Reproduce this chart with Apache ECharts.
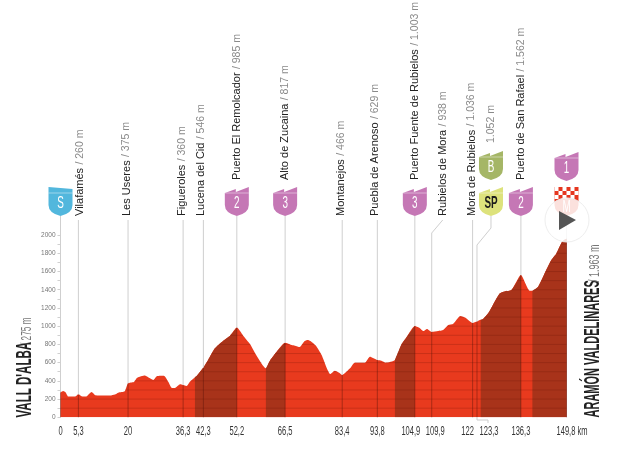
<!DOCTYPE html>
<html><head><meta charset="utf-8">
<style>html,body{margin:0;padding:0;background:#fff}#c{width:622px;height:466px}</style>
<script src="https://cdn.jsdelivr.net/npm/echarts@6/dist/echarts.min.js"></script>
</head><body><div id="c"></div>
<script>
const profileKm=[0,0.8,1.5,2.3,4.3,5.3,6.5,7.5,9.2,10.4,12.7,14.7,16.1,17.1,19,20,21.7,22.7,25,26.5,27.5,28.6,30.6,31.9,32.9,33.9,35.4,37.3,38.3,39.8,40.3,42.3,43.7,45.7,48.2,50.2,52.2,54.1,56.1,58.1,60.8,62,64,66.5,68.4,69.4,70.8,72.3,73.3,75.5,77.3,79.9,81.2,82.5,83.4,85.7,87.1,90.1,91.6,93.8,95,96.3,99,101,102.4,104.9,106.2,107.5,108.5,109.9,111.8,113.3,114.8,116.2,118.4,119.9,122,123.3,124.4,125.1,126.6,130,131.5,133.5,136.3,138.9,139.7,141.4,143.8,145.3,146.8,148.5,149.8];
const profileElev=[275,289,274,227,227,252,227,227,278,241,238,238,249,270,285,373,388,435,460,428,410,453,457,391,325,322,362,344,391,440,453,546,629,757,841,896,985,896,804,673,537,622,720,817,793,786,771,837,848,790,684,475,512,490,466,537,600,600,665,629,622,600,629,804,877,1003,984,947,969,938,947,958,1013,1024,1111,1093,1036,1052,1070,1079,1141,1360,1382,1397,1562,1389,1389,1433,1616,1726,1799,1927,1963];
const climbRanges=[[39.8,52.2],[60.8,66.5],[99,104.9],[124.4,136.3],[139.7,149.8]];
const kmTicks=[0,5.3,20,36.3,42.3,52.2,66.5,83.4,93.8,104.9,109.9,122,123.3,136.3,149.8];
const kmLabels=['0','5,3','20','36,3','42,3','52,2','66,5','83,4','93,8','104,9','109,9','122','123,3','136,3','149,8 km'];
const kmLabelDx=[0,0,0,0,0,0,0,0,0,-4,3.5,-5,12,0,5.5];
const elevLabels=[0,200,400,600,800,1000,1200,1400,1600,1800,2000];
const elevTicks=[0,100,200,300,400,500,600,700,800,900,1000,1100,1200,1300,1400,1500,1600,1700,1800,1900,2000];
const stopKm=[5.3,20,36.3,42.3,52.2,66.5,83.4,93.8,104.9,109.9,122,123.3,136.3];
const stopNames=['Vilafamés','Les Useres','Figueroles','Lucena del Cid','Puerto El Remolcador','Alto de Zucaina','Montanejos','Puebla de Arenoso','Puerto Fuente de Rubielos','Rubielos de Mora','Mora de Rubielos','','Puerto de San Rafael'];
const stopHeights=['/ 260 m','/ 375 m','/ 360 m','/ 546 m','/ 985 m','/ 817 m','/ 466 m','/ 629 m','/ 1.003 m','/ 938 m','/ 1.036 m','1.052 m','/ 1.562 m'];
const stopDx=[2,-1.5,-1.5,-2,0,0,-1.5,-2,0,11,-1,14.5,0];
const stopBottom=[216,216,216,216,180,180,216,216,180,216,216,143,180];
const shieldKm=[0,52.2,66.5,104.9,123.3,123.3,136.3,149.8,149.8];
const shieldText=['S','2','3','3','SP','B','2','M','1'];
const shieldFill=['#52b7dd','#c577b5','#c577b5','#c577b5','#dde27c','#a5b666','#c577b5','#e5361f','#c577b5'];
const shieldDx=[0,0,0,0,14,14,0,0,0];
const shieldTop=[187,187,187,187,187,151,187,187,152];

const profile=profileKm.map((k,i)=>[k,profileElev[i]]);
function elevAt(km){
  for(let i=1;i<profile.length;i++){
    if(km<=profile[i][0]){const a=profile[i-1],b=profile[i];return a[1]+(b[1]-a[1])*(km-a[0])/(b[0]-a[0]);}
  }
  return profile[profile.length-1][1];
}
/* parts of each 100 m level that lie under the profile */
const levelRuns=[];
elevTicks.slice(1).forEach(lv=>{
  let start=null;
  for(let i=0;i<profile.length;i++){
    const p=profile[i],q=profile[i-1];
    if(p[1]>=lv&&start===null){start=q?q[0]+(p[0]-q[0])*(lv-q[1])/(p[1]-q[1]):p[0];}
    if(p[1]<lv&&start!==null){levelRuns.push([start,q[0]+(p[0]-q[0])*(q[1]-lv)/(q[1]-p[1]),lv]);start=null;}
  }
  if(start!==null)levelRuns.push([start,149.8,lv]);
});
const Y_TOP_LINE=220;
const guides=[0].concat(stopKm,[149.8]);
const guideSeries={type:'custom',silent:true,z:5,coordinateSystem:'cartesian2d',data:guides.map(k=>[k]),
  encode:{x:0},
  renderItem(p,api){
    const km=api.value(0),x=api.coord([km,0])[0],y0=api.coord([km,0])[1],yp=api.coord([km,elevAt(km)])[1];
    const kids=[{type:'line',shape:{x1:x,y1:y0,x2:x,y2:yp},style:{stroke:'rgba(90,20,10,.55)',lineWidth:.8}}];
    let pts;
    if(km===109.9)pts=[[x,yp],[x,233],[x+11,Y_TOP_LINE]];
    else if(km===123.3){pts=[[x,yp],[x,245],[x+14,228],[x+14,216]];
      kids.push({type:'polyline',shape:{points:[[x,y0],[x,420],[x+11,420],[x+11,423]]},style:{stroke:'#ccc',lineWidth:1,fill:null}});}
    else if(km===0||km===52.2||km===66.5||km===104.9||km===136.3)pts=[[x,yp],[x,216]];
    else pts=[[x,yp],[x,Y_TOP_LINE]];
    kids.push({type:'polyline',shape:{points:pts},style:{stroke:'#cfcfcf',lineWidth:1,fill:null}});
    return {type:'group',children:kids};
  }};
const levelSeries={type:'custom',silent:true,z:4,coordinateSystem:'cartesian2d',data:levelRuns,
  encode:{x:[0,1],y:2},
  renderItem(p,api){
    const a=api.coord([api.value(0),api.value(2)]),b=api.coord([api.value(1),api.value(2)]);
    return {type:'line',shape:{x1:a[0],y1:a[1],x2:b[0],y2:b[1]},style:{stroke:'rgba(90,15,5,.3)',lineWidth:.7}};
  }};
const stopSeries={type:'custom',silent:true,z:7,coordinateSystem:'cartesian2d',data:stopKm.map((k,i)=>[k,i]),
  encode:{x:0},
  renderItem(p,api){
    const i=api.value(1),x=api.coord([api.value(0),0])[0]+stopDx[i];
    const txt=(stopNames[i]?'{n|'+stopNames[i]+'} ':'')+'{h|'+stopHeights[i]+'}';
    return {type:'text',x:x,y:stopBottom[i],rotation:Math.PI/2,style:{text:txt,align:'left',verticalAlign:'middle',
      rich:{n:{fontFamily:'Liberation Sans',fontSize:11,fill:'#222',fontWeight:500},h:{fontFamily:'Liberation Sans',fontSize:10.5,fill:'#8a8a8a'}}}};
  }};
const kmLabelSeries={type:'custom',silent:true,z:7,coordinateSystem:'cartesian2d',data:kmTicks.map((k,i)=>[k,i]),
  encode:{x:0},
  renderItem(p,api){
    const i=api.value(1),x=api.coord([api.value(0),0])[0]+kmLabelDx[i];
    return {type:'text',x:x,y:431.5,scaleX:.58,style:{text:kmLabels[i],align:'center',verticalAlign:'middle',fontFamily:'Liberation Sans',fontSize:13,fill:'#333'}};
  }};
const SHIELD='M0 6L11 2L11 5L24 0L24 18Q24 26 12 29Q0 26 0 18Z';
const SHIELD_S='M0 0L24 2L24 18Q24 26 12 29Q0 26 0 18Z';
const shieldSeries={type:'custom',silent:true,z:8,coordinateSystem:'cartesian2d',data:shieldKm.map((k,i)=>[k,i]),
  encode:{x:0},
  renderItem(p,api){
    const i=api.value(1),cx=api.coord([api.value(0),0])[0]+shieldDx[i],t=shieldTop[i],w=24,h=29;
    const kids=[{type:'path',shape:{pathData:i===0?SHIELD_S:SHIELD,x:cx-w/2,y:t,width:w,height:h,layout:'cover'},style:{fill:shieldFill[i]}}];
    if(shieldText[i]==='M'){
      kids[0].shape.pathData='M0 0L24 0L24 18Q24 26 12 29Q0 26 0 18Z';
      for(let c=0;c<6;c++)for(let r=0;r<3;r++){if((c+r)%2===0)kids.push({type:'rect',shape:{x:cx-12+c*4,y:t+r*4,width:4,height:4},style:{fill:'#fff'}});}
    } else {
      kids.push({type:'line',shape:{x1:cx-12,y1:t+6,x2:cx+12,y2:t+6},style:{stroke:'rgba(255,255,255,.55)',lineWidth:.8}});
    }
    kids.push({type:'text',x:cx,y:t+(i===7?20:16.5),scaleX:.58,style:{text:shieldText[i],align:'center',verticalAlign:'middle',fontFamily:'Liberation Sans',fontWeight:shieldText[i]==='SP'?'bold':'normal',fontSize:17,fill:shieldText[i]==='SP'?'#1c1c1c':'#fff'}});
    return {type:'group',children:kids};
  }};
const climbSeries=climbRanges.map(r=>({type:'line',silent:true,z:3,smooth:.2,symbol:'none',showSymbol:false,lineStyle:{width:0},
  areaStyle:{color:'#a8331a',opacity:1},data:profile.filter(p=>p[0]>=r[0]&&p[0]<=r[1])}));

const chart=echarts.init(document.getElementById('c'),null,{renderer:'canvas'});
chart.setOption({
  animation:false,backgroundColor:'#fff',
  grid:{left:60.5,right:55.5,top:0,bottom:48.7,containLabel:false},
  xAxis:{type:'value',min:0,max:149.8,splitLine:{show:false},axisLine:{show:false},axisTick:{show:false},axisLabel:{show:false}},
  yAxis:{type:'value',min:0,max:4580,splitLine:{show:false},axisLine:{show:false},
    axisTick:{show:true,customValues:elevTicks,length:3,inside:false,lineStyle:{color:'#bbb',width:.7}},
    axisLabel:{customValues:elevLabels,margin:5,formatter:v=>String(v),fontFamily:'Liberation Sans',fontSize:6.5,color:'#777'}},
  series:[{type:'line',silent:true,z:2,smooth:.2,symbol:'none',showSymbol:false,lineStyle:{width:0},areaStyle:{color:'#e83a1e',opacity:1},data:profile}]
    .concat(climbSeries,[levelSeries,guideSeries,kmLabelSeries,stopSeries,shieldSeries]),
  graphic:[
    {type:'text',z:20,x:25,y:417.5,rotation:Math.PI/2,scaleX:.525,style:{text:"VALL D'ALBA",align:'left',verticalAlign:'middle',fontFamily:'Liberation Sans',fontWeight:'bold',fontSize:22,fill:'#222'}},
    {type:'text',z:20,x:27,y:345,rotation:Math.PI/2,scaleX:.55,style:{text:'/ 275 m',align:'left',verticalAlign:'middle',fontFamily:'Liberation Sans',fontSize:15,fill:'#777'}},
    {type:'text',z:20,x:593,y:417.5,rotation:Math.PI/2,scaleX:.5,style:{text:'ARAMÓN VALDELINARES',align:'left',verticalAlign:'middle',fontFamily:'Liberation Sans',fontWeight:'bold',fontSize:22,fill:'#222'}},
    {type:'text',z:20,x:595,y:282,rotation:Math.PI/2,scaleX:.6,style:{text:'/ 1.963 m',align:'left',verticalAlign:'middle',fontFamily:'Liberation Sans',fontSize:15,fill:'#777'}},
    {type:'circle',z:30,shape:{cx:567,cy:220,r:22},style:{fill:'rgba(255,255,255,.85)',stroke:'#eee',lineWidth:1}},
    {type:'polygon',z:31,shape:{points:[[559,211],[576,220],[559,230]]},style:{fill:'#555'}}
  ]
});
</script></body></html>
